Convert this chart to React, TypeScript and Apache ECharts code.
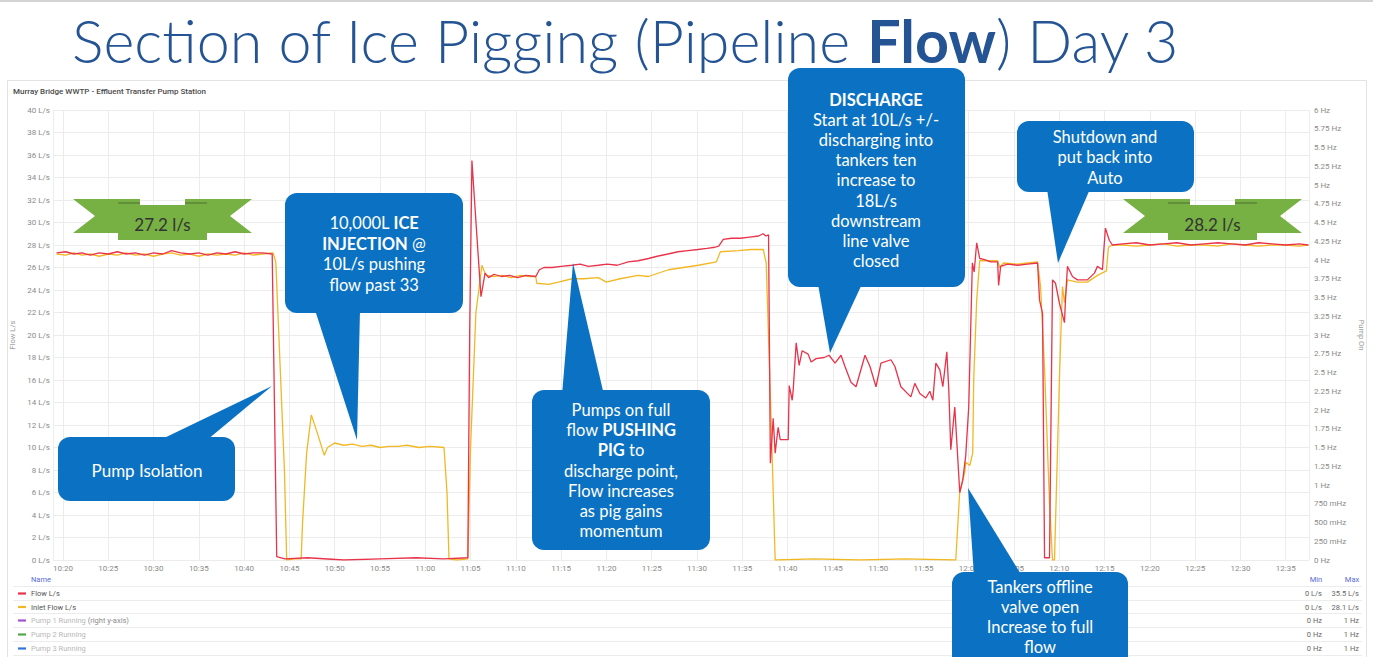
import React, { useEffect, useRef } from 'react';
import * as echarts from 'echarts';

// Time values are minutes after 10:00, flows in L/s
const flowSeries: [number, number][] = [
  [19.3, 27.3], [20.3, 27.4], [21.2, 27.2], [22.1, 27.3], [23.0, 27.1], [24.0, 27.3], [25.0, 27.2],
  [26.0, 27.4], [27.0, 27.2], [28.0, 27.3], [29.0, 27.1], [30.0, 27.3], [31.0, 27.2], [32.0, 27.5],
  [33.0, 27.3], [34.0, 27.2], [35.0, 27.3], [36.0, 27.1], [37.0, 27.3], [38.0, 27.2], [39.0, 27.4],
  [40.0, 27.2], [41.0, 27.3], [42.0, 27.3], [43.1, 27.2], [43.6, 0.3], [44.5, 0.1], [47.0, 0.2],
  [51.0, 0], [55.0, 0.1], [59.0, 0.2], [62.0, 0.1], [64.7, 0.2], [64.9, 20.0], [65.15, 35.5],
  [65.6, 30.0], [66.15, 23.4], [66.6, 25.5], [67.0, 25.1], [67.6, 25.4], [68.4, 25.2], [69.3, 25.3],
  [70.2, 25.1], [71.1, 25.3], [72.2, 25.2], [72.6, 25.8], [73.1, 26.0], [74.0, 26.0], [75.0, 26.1],
  [76.2, 26.2], [77.1, 26.3], [78.0, 26.1], [79.1, 26.2], [80.1, 26.3], [81.2, 26.2], [82.4, 26.5],
  [83.5, 26.6], [84.65, 26.8], [85.6, 27.0], [86.8, 27.2], [87.9, 27.4], [89.0, 27.5], [90.1, 27.6],
  [91.1, 27.7], [92.0, 27.8], [92.4, 27.9], [92.9, 28.5], [93.8, 28.6], [94.8, 28.6], [95.8, 28.7],
  [96.8, 28.8], [97.3, 29.0], [97.6, 28.8], [97.9, 28.9], [98.1, 8.6], [98.41, 12.6], [98.63, 9.5],
  [98.96, 11.8], [99.19, 10.7], [100.07, 10.7], [100.18, 15.5], [100.51, 14.2], [100.62, 15.1],
  [100.95, 19.3], [101.28, 17.3], [101.61, 18.6], [102.27, 18.3], [102.6, 17.6], [103.15, 17.9],
  [104.03, 18.0], [104.58, 18.2], [105.24, 17.5], [105.9, 18.2], [106.34, 17.2], [107.0, 15.8],
  [107.56, 15.4], [108.55, 18.2], [109.1, 17.2], [109.76, 15.4], [110.31, 17.5], [111.41, 17.8],
  [111.85, 17.2], [112.51, 15.4], [113.61, 14.5], [114.05, 15.7], [114.6, 14.8], [115.26, 14.4],
  [115.7, 15.0], [116.04, 14.2], [116.37, 17.5], [116.81, 16.9], [117.14, 15.4], [117.58, 18.5],
  [117.8, 15.1], [118.02, 9.8], [118.46, 13.6], [119.01, 6.0], [119.34, 7.1], [119.67, 9.3],
  [120.0, 13.6], [120.4, 26.4], [120.6, 25.6], [120.88, 28.2], [121.21, 26.8], [121.76, 26.7],
  [122.42, 26.5], [123.19, 26.5], [123.3, 24.4], [123.52, 26.1], [124.3, 26.3], [125.4, 26.2],
  [126.5, 26.3], [127.6, 26.4], [127.82, 23.1], [128.15, 21.9], [128.37, 0.2], [128.92, 0.2],
  [129.25, 24.9], [129.58, 24.6], [130.02, 22.8], [130.57, 21.1], [130.68, 23.1], [130.9, 26.1],
  [131.45, 25.2], [132.0, 24.9], [133.1, 24.9], [133.88, 25.5], [134.21, 26.1], [134.76, 25.8],
  [135.09, 29.5], [135.53, 28.4], [135.86, 28.0], [137.0, 28.1], [138.5, 28.2], [140.0, 28.0],
  [141.5, 28.1], [143.0, 28.2], [144.5, 28.0], [146.0, 28.1], [147.5, 28.2], [149.0, 28.1],
  [150.5, 28.0], [152.0, 28.2], [153.5, 28.1], [155.0, 28.0], [156.5, 28.1], [157.5, 28.0],
];

const inletSeries: [number, number][] = [
  [19.3, 27.2], [20.3, 27.1], [21.2, 27.3], [22.1, 27.1], [23.0, 27.2], [24.0, 27.0], [25.0, 27.2],
  [26.0, 27.1], [27.0, 27.3], [28.0, 27.1], [29.0, 27.2], [30.0, 27.0], [31.0, 27.2], [32.0, 27.3],
  [33.0, 27.1], [34.0, 27.2], [35.0, 27.0], [36.0, 27.2], [37.0, 27.1], [38.0, 27.2], [39.0, 27.1],
  [40.0, 27.3], [41.0, 27.1], [42.0, 27.2], [43.2, 27.3], [43.5, 26.5], [44.45, 8.0], [44.7, 0],
  [45.5, 0.1], [46.3, 0.1], [46.45, 3.3], [46.9, 9.5], [47.42, 12.9], [48.08, 11.3], [48.85, 9.3],
  [49.2, 10.0], [50.0, 10.4], [51.0, 10.2], [52.0, 10.3], [53.0, 10.1], [54.0, 10.2], [55.0, 10.0],
  [56.0, 10.1], [57.0, 10.1], [58.0, 10.2], [59.3, 10.0], [60.5, 10.1], [62.07, 10.0], [62.4, 6.0],
  [62.62, 0.1], [63.5, 0], [64.7, 0.1], [65.0, 10.0], [65.59, 22.0], [66.26, 26.2], [66.59, 25.5],
  [66.81, 25.3], [67.5, 25.2], [68.5, 25.3], [69.5, 25.1], [70.5, 25.3], [71.5, 25.2], [72.2, 25.2],
  [72.31, 24.6], [73.6, 24.5], [74.7, 24.7], [76.2, 25.0], [77.5, 25.0], [79.1, 25.1], [80.0, 24.7],
  [81.5, 25.0], [83.5, 25.3], [84.65, 25.2], [86.85, 25.8], [88.5, 26.0], [90.15, 26.2],
  [92.14, 26.5], [92.58, 27.4], [94.56, 27.5], [96.0, 27.6], [97.31, 27.6], [97.64, 26.4],
  [98.2, 12.0], [98.63, 0], [103.0, 0.1], [108.0, 0], [113.0, 0.1], [118.57, 0], [119.0, 6.0],
  [119.56, 7.8], [119.67, 8.7], [120.11, 8.4], [120.44, 9.5], [120.55, 16.0], [120.88, 23.1],
  [121.21, 26.6], [122.0, 26.6], [123.19, 26.6], [123.41, 26.0], [123.85, 26.4], [125.4, 26.3],
  [126.5, 26.4], [127.6, 26.5], [127.93, 24.3], [128.37, 17.0], [128.92, 5.0], [129.25, 0],
  [129.47, 0], [130.02, 16.3], [130.35, 24.3], [130.57, 22.9], [130.9, 24.9], [132.0, 24.7],
  [133.1, 24.7], [134.21, 25.3], [135.2, 25.7], [135.42, 27.8], [135.86, 28.0], [137.0, 28.0],
  [138.5, 27.9], [140.0, 28.0], [141.5, 28.1], [143.0, 27.9], [144.5, 28.0], [146.0, 28.0],
  [147.5, 27.9], [149.0, 28.1], [150.5, 28.0], [152.0, 27.9], [153.5, 28.0], [155.0, 28.0],
  [156.5, 27.9], [157.5, 28.0],
];

const xRange = [18.9, 157.56];
const flowAxis = [0, 40, 2];
const pumpAxis = [0, 6, 0.25];

const legendNames = ['Flow L/s', 'Inlet Flow L/s', 'Pump 1 Running', 'Pump 2 Running', 'Pump 3 Running'];
const legendColors = ['#e8334a', '#f2b824', '#a352cc', '#56a64b', '#3274d9'];
const pumpMinMax = [['0 Hz', '1 Hz'], ['0 Hz', '1 Hz'], ['0 Hz', '1 Hz']];

const ribbonLabels = ['27.2 l/s', '28.2 l/s'];

const titleParts = ['Section of Ice Pigging (Pipeline ', 'Flow', ') Day 3'];
const subtitle = 'Murray Bridge WWTP - Effluent Transfer Pump Station';

const calloutPumpIsolation = ['Pump Isolation'];
const calloutIce = ['10,000L {b|ICE}', '{b|INJECTION} @', '10L/s pushing', 'flow past 33'];
const calloutPig = ['Pumps on full', 'flow {b|PUSHING}', '{b|PIG} to', 'discharge point,', 'Flow increases', 'as pig gains', 'momentum'];
const calloutDischarge = ['{b|DISCHARGE}', 'Start at 10L/s +/-', 'discharging into', 'tankers ten', 'increase to', '18L/s', 'downstream', 'line valve', 'closed'];
const calloutShutdown = ['Shutdown and', 'put back into', 'Auto'];
const calloutTankers = ['Tankers offline', 'valve open', 'Increase to full', 'flow'];

const BLUE = '#0b72c3';
const GREEN = '#77b043';
const UI_FONT = 'Roboto, "Noto Sans", sans-serif';
const CALLOUT_FONT = 'Lato, "Open Sans", sans-serif';

function fmtTime(v: number) {
  const total = Math.round(600 + v);
  const h = Math.floor(total / 60);
  const m = total % 60;
  return `${h}:${m < 10 ? '0' + m : m}`;
}

function fmtHz(v: number) {
  if (v > 0 && v < 1) return `${Math.round(v * 1000)} mHz`;
  return `${+v.toFixed(2)} Hz`;
}

function callout(
  rect: [number, number, number, number],
  pointer: number[][],
  lines: string[],
  cx: number,
  y0: number,
  lh: number,
  fs: number
): any[] {
  const els: any[] = [
    { type: 'rect', z: 100, shape: { x: rect[0], y: rect[1], width: rect[2], height: rect[3], r: 12 }, style: { fill: BLUE } },
    { type: 'polygon', z: 100, shape: { points: pointer }, style: { fill: BLUE } },
  ];
  lines.forEach((t, i) => {
    els.push({
      type: 'text',
      z: 101,
      x: cx,
      y: y0 + i * lh,
      style: {
        text: t,
        fill: '#ffffff',
        fontSize: fs,
        fontFamily: CALLOUT_FONT,
        align: 'center',
        verticalAlign: 'middle',
        rich: {
          b: { fontSize: fs, fontFamily: CALLOUT_FONT, fontWeight: 'bold', fill: '#ffffff' },
        },
      },
    });
  });
  return els;
}

function ribbon(left: number, top: number, label: string): any[] {
  const w = 179;
  const right = left + w;
  const earBottom = top + 34;
  const notchDepth = 22;
  const cL = left + 45;
  const cR = right - 45;
  return [
    {
      type: 'polygon', z: 100,
      shape: { points: [[left, top], [cL + 22, top], [cL + 22, earBottom], [left, earBottom], [left + notchDepth, top + 17]] },
      style: { fill: GREEN },
    },
    {
      type: 'polygon', z: 100,
      shape: { points: [[right, top], [cR - 22, top], [cR - 22, earBottom], [right, earBottom], [right - notchDepth, top + 17]] },
      style: { fill: GREEN },
    },
    { type: 'rect', z: 100, shape: { x: cL, y: top + 6, width: cR - cL, height: 35 }, style: { fill: GREEN } },
    { type: 'line', z: 101, shape: { x1: cL, y1: top + 4, x2: cL + 22, y2: top + 4 }, style: { stroke: '#4d6e35', lineWidth: 1 } },
    { type: 'line', z: 101, shape: { x1: cR - 22, y1: top + 4, x2: cR, y2: top + 4 }, style: { stroke: '#4d6e35', lineWidth: 1 } },
    {
      type: 'text', z: 102, x: (left + right) / 2, y: top + 25,
      style: { text: label, fill: '#333333', fontSize: 17, fontFamily: CALLOUT_FONT, align: 'center', verticalAlign: 'middle' },
    },
  ];
}

function seriesMinMax(d: [number, number][]) {
  let mn = Infinity, mx = -Infinity;
  d.forEach((p) => { mn = Math.min(mn, p[1]); mx = Math.max(mx, p[1]); });
  return [`${+mn.toFixed(1)} L/s`, `${+mx.toFixed(1)} L/s`];
}

export default function App() {
  const ref = useRef<HTMLDivElement>(null);

  useEffect(() => {
    if (!ref.current) return;
    const chart = echarts.init(ref.current, undefined, { renderer: 'svg' });

    // measure the title to fit its width
    const TITLE_SIZE = 60;
    const TITLE_FONT = 'Lato, "Open Sans", sans-serif';
    let titleScale = 0.8;
    const cv = document.createElement('canvas').getContext('2d');
    if (cv) {
      cv.font = `300 ${TITLE_SIZE}px ${TITLE_FONT}`;
      let w = cv.measureText(titleParts[0]).width + cv.measureText(titleParts[2]).width;
      cv.font = `bold ${TITLE_SIZE}px ${TITLE_FONT}`;
      w += cv.measureText(titleParts[1]).width;
      titleScale = 1108 / w;
    }

    const minMax = [seriesMinMax(flowSeries), seriesMinMax(inletSeries), ...pumpMinMax];

    const graphics: any[] = [];
    // top line and panel border
    graphics.push({ type: 'line', shape: { x1: 0, y1: 1, x2: 1373, y2: 1 }, style: { stroke: '#d4d4d4', lineWidth: 2 } });
    graphics.push({ type: 'rect', shape: { x: 7.5, y: 80.5, width: 1359, height: 600 }, style: { fill: 'none', stroke: '#e3e3e3', lineWidth: 1 } });
    // title
    graphics.push({
      type: 'text', x: 72, y: 40, scaleX: titleScale,
      style: {
        text: `${titleParts[0]}{b|${titleParts[1]}}${titleParts[2]}`,
        fill: '#245494', fontSize: TITLE_SIZE, fontWeight: 300, fontFamily: TITLE_FONT, align: 'left', verticalAlign: 'middle',
        rich: { b: { fontSize: TITLE_SIZE, fontFamily: TITLE_FONT, fontWeight: 'bold', fill: '#245494' } },
      },
    });
    graphics.push({
      type: 'text', x: 13, y: 91,
      style: { text: subtitle, fill: '#4a4a4a', fontSize: 8, fontWeight: 500, fontFamily: UI_FONT, align: 'left', verticalAlign: 'middle' },
    });

    // legend table
    graphics.push({ type: 'text', x: 31, y: 579, style: { text: 'Name', fill: '#5b6bd8', fontSize: 7.5, fontFamily: UI_FONT, verticalAlign: 'middle' } });
    graphics.push({ type: 'text', x: 1316, y: 579, style: { text: 'Min', fill: '#5b6bd8', fontSize: 7.5, fontFamily: UI_FONT, align: 'center', verticalAlign: 'middle' } });
    graphics.push({ type: 'text', x: 1352, y: 579, style: { text: 'Max', fill: '#5b6bd8', fontSize: 7.5, fontFamily: UI_FONT, align: 'center', verticalAlign: 'middle' } });
    const rowLines = [586, 600, 613, 627, 641, 655];
    rowLines.forEach((y) => {
      graphics.push({ type: 'line', shape: { x1: 13, y1: y + 0.5, x2: 1362, y2: y + 0.5 }, style: { stroke: '#ececec', lineWidth: 1 } });
    });
    legendNames.forEach((name, i) => {
      const y = (rowLines[i] + rowLines[i + 1]) / 2 + 0.5;
      const active = i < 2;
      graphics.push({ type: 'line', shape: { x1: 18, y1: y, x2: 26, y2: y }, style: { stroke: legendColors[i], lineWidth: 2.2 } });
      graphics.push({
        type: 'text', x: 31, y,
        style: {
          text: i === 2 ? `${name} {r|(right y-axis)}` : name,
          fill: active ? '#555555' : '#b8b8b8', fontSize: 7.5, fontFamily: UI_FONT, verticalAlign: 'middle',
          rich: { r: { fill: '#8c8c8c', fontSize: 7.5, fontFamily: UI_FONT } },
        },
      });
      graphics.push({ type: 'text', x: 1322, y, style: { text: minMax[i][0], fill: '#666666', fontSize: 7.5, fontFamily: UI_FONT, align: 'right', verticalAlign: 'middle' } });
      graphics.push({ type: 'text', x: 1359, y, style: { text: minMax[i][1], fill: '#666666', fontSize: 7.5, fontFamily: UI_FONT, align: 'right', verticalAlign: 'middle' } });
    });

    // ribbons
    graphics.push(...ribbon(73, 199, ribbonLabels[0]));
    graphics.push(...ribbon(1123, 199, ribbonLabels[1]));

    // callouts
    graphics.push(...callout([58, 437, 177, 64], [[160, 440], [207, 440], [272, 386]], calloutPumpIsolation, 147, 470, 20, 17));
    graphics.push(...callout([285, 193, 178, 120], [[315, 310], [360, 310], [357, 440]], calloutIce, 374, 223, 20.5, 16.5));
    graphics.push(...callout([532, 390, 178, 160], [[562, 395], [604, 395], [573, 263]], calloutPig, 621, 410, 20.2, 16.5));
    graphics.push(...callout([788, 68, 177, 219], [[818, 284], [862, 284], [830, 353]], calloutDischarge, 876, 100, 20.1, 16.5));
    graphics.push(...callout([1017, 121, 177, 71], [[1047, 189], [1090, 189], [1058, 263]], calloutShutdown, 1105, 137, 20.3, 16.5));
    graphics.push(...callout([952, 572, 176, 110], [[968, 488], [974, 576], [1022, 576]], calloutTankers, 1040, 587, 20, 16.5));

    const axisLabelStyle = { color: '#8a8a8a', fontSize: 8, fontFamily: UI_FONT };

    chart.setOption({
      animation: false,
      backgroundColor: '#ffffff',
      grid: { left: 53, right: 61, top: 110, bottom: 97, containLabel: false },
      xAxis: {
        type: 'value',
        min: xRange[0],
        max: xRange[1],
        minInterval: 5,
        maxInterval: 5,
        axisLine: { show: false },
        axisTick: { show: false },
        splitLine: { show: true, lineStyle: { color: '#ececec', width: 1 } },
        axisLabel: { ...axisLabelStyle, margin: 4, formatter: (v: number) => fmtTime(v), showMinLabel: false, showMaxLabel: false },
      },
      yAxis: [
        {
          type: 'value',
          min: flowAxis[0],
          max: flowAxis[1],
          interval: flowAxis[2],
          name: 'Flow L/s',
          nameLocation: 'middle',
          nameGap: 36,
          nameRotate: 90,
          nameTextStyle: { color: '#9a9a9a', fontSize: 7.5, fontFamily: UI_FONT },
          axisLine: { show: false },
          axisTick: { show: false },
          splitLine: { show: true, lineStyle: { color: '#ececec', width: 1 } },
          axisLabel: { ...axisLabelStyle, margin: 3, formatter: '{value} L/s' },
        },
        {
          type: 'value',
          position: 'right',
          min: pumpAxis[0],
          max: pumpAxis[1],
          interval: pumpAxis[2],
          name: 'Pump On',
          nameLocation: 'middle',
          nameGap: 46,
          nameRotate: -90,
          nameTextStyle: { color: '#9a9a9a', fontSize: 7.5, fontFamily: UI_FONT },
          axisLine: { show: false },
          axisTick: { show: false },
          splitLine: { show: false },
          axisLabel: { ...axisLabelStyle, margin: 5, formatter: (v: number) => fmtHz(v) },
        },
      ],
      series: [
        {
          name: 'Inlet Flow L/s',
          type: 'line',
          data: inletSeries,
          showSymbol: false,
          lineStyle: { color: legendColors[1], width: 1.3 },
          itemStyle: { color: legendColors[1] },
          z: 3,
        },
        {
          name: 'Flow L/s',
          type: 'line',
          data: flowSeries,
          showSymbol: false,
          lineStyle: { color: legendColors[0], width: 1.3 },
          itemStyle: { color: legendColors[0] },
          z: 4,
        },
      ],
      graphic: { elements: graphics },
    });

    return () => chart.dispose();
  }, []);

  return <div ref={ref} style={{ position: 'absolute', left: 0, top: 0, width: 1373, height: 657 }} />;
}
